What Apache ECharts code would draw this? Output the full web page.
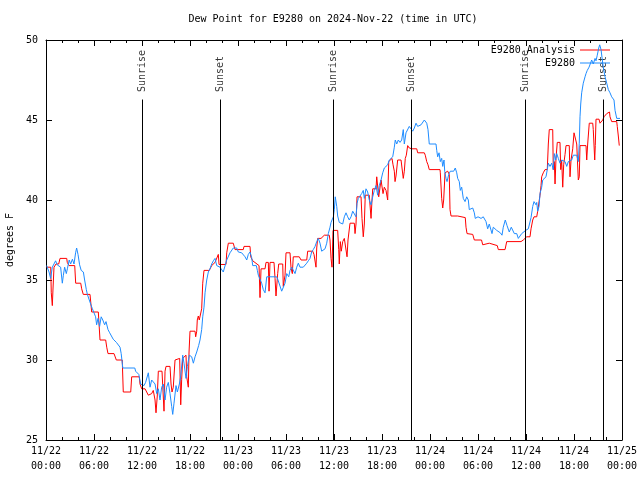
<!DOCTYPE html>
<html><head><meta charset="utf-8">
<script src="https://cdn.jsdelivr.net/npm/echarts@6/dist/echarts.min.js"></script>
<style>html,body{margin:0;padding:0;background:#fff}#c{width:640px;height:480px}</style>
</head><body><div id="c"></div><script>
const chartTitle = 'Dew Point for E9280 on 2024-Nov-22 (time in UTC)';
const yAxisTitle = 'degrees F';
const xTickLabels = ['11/22\n00:00','11/22\n06:00','11/22\n12:00','11/22\n18:00','11/23\n00:00','11/23\n06:00','11/23\n12:00','11/23\n18:00','11/24\n00:00','11/24\n06:00','11/24\n12:00','11/24\n18:00','11/25\n00:00'];
const sunTimes = [12.0, 21.75, 35.91, 45.66, 59.91, 69.66];
const sunLabels = ['Sunrise','Sunset','Sunrise','Sunset','Sunrise','Sunset'];
const redName = 'E9280 Analysis';
const blueName = 'E9280';
// hours since 2024-11-22 00:00 UTC
const redHours = [
0.08,0.59,0.66,0.79,0.88,1.0,1.25,1.59,1.75,2.59,
2.66,2.88,3.59,3.71,4.34,4.46,4.66,5.5,5.71,6.54,
6.75,7.46,7.59,7.75,8.5,8.63,8.79,9.53,9.66,10.59,
10.71,11.66,11.75,11.96,12.38,12.79,13.21,13.41,13.63,13.75,
13.91,14.04,14.5,14.75,14.88,15.0,15.5,15.63,15.75,15.91,
16.13,16.71,16.84,16.96,17.09,17.5,17.59,17.79,17.88,18.0,
18.63,18.71,18.84,18.91,19.04,19.16,19.34,19.46,19.59,19.75,
20.41,20.71,21.13,21.38,21.54,21.63,22.5,22.59,22.79,23.41,
23.63,24.66,24.75,25.5,25.59,25.84,26.0,26.63,26.75,26.88,
27.38,27.5,27.79,27.88,28.0,28.5,28.63,28.75,28.96,29.09,
29.59,29.66,29.88,30.0,30.5,30.63,30.79,30.91,31.66,31.88,
32.59,32.71,33.34,33.5,33.69,33.75,33.84,33.96,34.38,34.79,
35.41,35.5,35.63,35.75,35.88,36.46,36.59,36.66,36.79,36.91,
37.09,37.29,37.5,37.63,37.75,38.0,38.54,38.63,38.75,38.88,
39.38,39.5,39.66,39.79,39.91,40.41,40.63,40.75,40.84,41.25,
41.34,41.5,41.59,41.75,41.88,42.0,42.13,42.29,42.5,42.71,
42.84,43.25,43.38,43.54,43.63,43.75,43.96,44.38,44.5,44.66,
44.79,44.91,45.04,45.21,45.41,45.63,45.75,46.34,46.46,47.29,
47.41,47.59,47.75,47.91,49.25,49.29,49.46,49.59,49.71,49.88,
50.21,50.41,50.5,50.63,51.46,51.66,52.41,52.5,52.63,53.34,
53.54,54.44,54.59,54.75,55.41,55.59,56.41,56.54,57.38,57.59,
59.38,59.66,60.09,60.5,60.63,60.84,61.0,61.34,61.46,61.59,
61.75,61.88,61.96,62.16,62.38,62.66,62.79,62.91,63.34,63.41,
63.54,63.63,63.75,63.91,64.25,64.34,64.46,64.59,64.71,64.88,
65.0,65.41,65.5,65.63,65.84,66.0,66.25,66.34,66.54,66.66,
66.75,67.5,67.59,67.71,67.91,68.34,68.41,68.59,68.66,68.75,
69.13,69.25,69.46,69.59,69.75,70.0,70.09,70.29,70.44,70.5,
70.71,71.34,71.41,71.54,71.66];
const redValues = [
35.8,35.8,34.2,33.4,34.5,35.8,36.0,36.0,36.35,36.35,
36.1,35.9,35.9,34.8,34.8,34.45,34.1,34.1,33.0,33.0,
31.25,31.25,30.8,30.4,30.4,30.3,30.0,30.0,28.0,28.0,
28.95,28.95,28.5,28.2,28.2,27.8,27.9,28.1,27.5,26.7,
27.75,29.3,29.3,26.8,29.3,29.6,29.6,28.5,28.0,28.3,
30.0,30.1,27.2,28.8,30.1,30.3,28.95,28.3,30.5,31.8,
31.8,31.45,31.8,32.5,32.75,32.5,32.5,33.2,34.8,35.6,
35.6,35.9,36.1,36.0,36.6,35.97,35.97,36.7,37.3,37.3,
36.9,36.9,37.1,37.1,36.45,36.2,36.1,35.9,33.9,35.7,
35.7,36.1,36.1,34.3,36.1,36.1,35.1,34.0,35.4,36.0,
36.0,34.6,35.3,36.7,36.7,35.75,35.4,36.45,36.45,36.25,
36.25,36.8,36.8,36.6,36.7,35.8,37.0,37.6,37.6,37.8,
37.8,37.5,36.35,35.8,38.1,38.1,36.9,36.0,37.4,36.8,
37.4,37.6,37.6,36.45,37.5,38.55,38.55,37.9,38.5,40.2,
40.2,38.85,37.7,38.5,40.3,40.3,38.85,40.0,40.7,40.7,
41.45,41.45,40.2,40.3,41.25,41.25,40.4,40.8,40.6,40.0,
42.4,42.6,42.2,41.8,41.15,41.5,42.5,42.5,42.0,41.35,
41.8,42.6,42.8,43.4,43.25,43.25,43.2,43.2,42.95,42.95,
42.8,42.4,42.2,41.9,41.9,41.7,40.1,39.5,40.0,41.7,
41.8,41.6,39.4,39.0,39.0,38.9,38.9,38.3,37.9,37.85,
37.5,37.5,37.2,37.3,37.3,37.2,37.15,36.9,36.9,37.4,
37.4,37.5,37.7,37.7,38.2,38.75,38.95,38.95,39.3,39.4,
40.3,40.9,41.45,41.7,41.9,41.9,43.5,44.4,44.4,41.9,
42.4,41.0,42.6,43.6,43.6,41.9,42.5,40.8,42.2,42.85,
43.4,43.4,41.45,42.5,43.2,44.2,44.2,43.5,41.25,41.45,
43.4,43.4,42.5,43.5,44.8,44.8,44.4,42.5,43.4,45.05,
45.05,44.8,44.8,45.0,45.2,45.2,45.4,45.5,45.5,45.2,
44.9,44.9,44.6,44.0,43.4];
const blueHours = [
0.08,0.38,0.58,0.79,1.2,1.4,1.6,1.83,2.04,2.17,
2.33,2.54,2.67,2.9,3.08,3.3,3.5,3.7,3.83,4.0,
4.2,4.4,4.67,4.83,5.04,5.17,5.4,5.58,5.8,6.0,
6.2,6.33,6.5,6.7,6.9,7.1,7.33,7.5,7.75,7.96,
8.2,8.4,8.58,8.8,9.0,9.25,9.4,9.6,11.1,11.2,
11.6,11.83,12.0,12.25,12.45,12.58,12.79,13.0,13.21,13.41,
13.63,13.84,14.04,14.25,14.46,14.67,14.88,15.08,15.29,15.5,
15.71,15.84,16.0,16.25,16.42,16.67,16.84,17.09,17.25,17.5,
17.67,17.92,18.21,18.42,18.63,18.84,19.08,19.25,19.46,19.59,
19.75,19.88,20.09,20.29,20.5,20.71,20.92,21.13,21.34,21.54,
21.75,21.96,22.16,22.34,22.59,22.79,23.0,23.21,23.41,23.63,
23.84,24.04,24.25,24.46,24.67,24.88,25.09,25.29,25.5,25.71,
25.84,26.04,26.29,26.42,26.54,26.75,26.96,27.16,27.38,27.59,
28.84,29.0,29.25,29.46,29.88,30.09,30.34,30.5,30.71,30.92,
31.13,31.34,31.54,31.75,31.96,32.16,32.34,32.59,32.79,33.0,
33.21,33.41,33.63,33.84,34.04,34.25,34.46,34.66,34.88,35.09,
35.29,35.5,35.63,35.92,36.04,36.16,36.34,36.46,36.66,37.09,
37.29,37.5,37.71,37.91,38.13,38.34,38.54,38.75,38.88,39.04,
39.25,39.46,39.66,39.79,40.0,40.21,40.41,40.63,40.84,41.04,
41.25,41.46,41.66,41.88,42.09,42.29,42.5,42.71,42.91,43.13,
43.34,43.54,43.66,43.84,44.04,44.25,44.46,44.66,44.79,45.0,
45.2,45.41,45.63,45.84,46.04,46.25,46.46,46.66,46.88,47.09,
47.29,47.41,47.59,47.75,47.91,48.75,48.84,48.96,49.13,49.29,
49.46,49.59,49.75,49.84,50.0,50.13,50.34,50.54,50.75,50.96,
51.16,51.34,51.46,51.66,51.79,51.96,52.16,52.38,52.59,52.79,
52.91,53.13,53.34,53.54,53.66,54.0,54.38,54.66,54.88,55.0,
55.21,55.41,55.63,55.75,55.91,56.13,56.34,56.59,56.79,57.0,
57.16,57.41,57.63,57.91,58.16,58.54,58.75,58.84,59.04,59.25,
59.46,59.63,59.96,60.29,60.5,60.63,60.84,61.0,61.25,61.34,
61.46,61.63,61.75,61.96,62.09,62.25,62.5,62.66,62.79,63.0,
63.21,63.41,63.54,63.71,63.84,64.04,64.25,64.46,64.66,64.88,
65.09,65.29,65.5,65.71,65.91,66.13,66.34,66.54,66.66,66.75,
66.84,66.96,67.16,67.38,67.5,67.66,67.88,68.09,68.21,68.41,
68.63,68.75,68.91,69.09,69.21,69.38,69.54,69.66,69.88,70.09,
70.29,70.5,70.71,70.84,71.0,71.13,71.34,71.54,71.75];
const blueValues = [
35.9,35.5,35.1,35.8,36.2,35.95,36.05,35.8,34.8,35.3,
35.8,35.4,35.7,36.25,36.0,36.3,36.0,36.7,37.0,36.6,
35.95,35.6,35.5,35.0,34.4,34.1,34.0,33.5,33.2,33.1,
32.7,32.2,32.6,32.1,32.7,32.5,32.2,32.4,31.9,31.7,
31.6,31.3,31.4,31.1,31.0,30.8,30.4,29.5,29.5,29.3,
29.1,28.5,28.5,28.4,28.6,28.5,29.2,28.3,28.75,28.85,
28.5,27.9,28.2,27.5,28.3,28.5,27.5,28.3,28.6,27.9,
27.1,26.6,27.3,28.4,28.0,28.5,29.0,30.3,29.8,28.85,
29.6,30.3,30.2,29.8,30.2,30.5,30.9,31.25,31.9,32.7,
33.3,34.2,35.0,35.5,35.7,36.0,36.2,36.35,35.9,35.85,
35.8,35.8,35.5,35.6,36.25,36.3,36.7,36.8,37.0,37.1,
37.0,36.75,36.7,36.7,36.7,36.45,36.25,36.6,36.75,36.4,
35.9,36.0,35.9,35.6,35.3,35.4,34.8,34.4,34.2,35.2,
35.2,35.0,35.0,34.3,34.8,35.4,35.2,35.6,35.8,35.7,
35.4,35.8,36.05,35.8,35.7,35.8,35.9,36.05,36.2,36.35,
36.75,36.9,37.1,37.4,37.6,37.3,36.8,36.9,36.95,37.3,
37.9,38.3,38.6,38.95,39.4,40.2,39.6,39.0,38.6,38.5,
38.95,39.2,38.95,38.75,38.95,39.3,39.2,38.95,39.8,40.1,
40.0,40.4,40.6,40.1,40.7,40.5,40.0,39.7,40.2,40.6,
40.9,40.3,40.9,41.25,41.7,42.0,41.9,42.2,42.5,42.5,
42.7,43.3,43.75,43.5,43.75,43.6,43.75,44.4,43.5,44.2,
44.3,44.6,44.7,44.3,44.5,44.8,44.6,44.5,44.7,44.8,
45.0,45.1,44.8,44.4,43.5,43.5,43.1,42.7,42.95,42.4,
42.6,42.1,42.5,41.8,41.35,41.15,41.6,41.8,41.9,41.8,
42.0,41.7,41.35,41.15,40.6,40.8,40.1,39.9,40.2,40.0,
39.4,39.3,39.5,39.2,38.85,38.95,38.85,38.95,39.05,38.65,
38.2,38.5,38.6,37.9,38.3,38.3,38.1,38.0,37.95,37.8,
38.3,38.75,38.4,38.0,38.3,37.9,37.8,37.9,37.6,37.7,
37.9,38.0,38.1,38.2,38.3,38.9,39.6,39.9,39.7,39.85,
39.3,39.6,40.4,40.8,41.25,41.3,41.45,41.9,42.3,42.1,
42.3,41.9,42.9,42.5,42.9,42.6,42.3,42.5,42.6,42.4,
42.1,42.4,42.3,42.5,42.8,42.9,42.8,42.4,43.55,45.2,
46.0,46.7,47.3,47.7,47.9,48.1,48.3,48.3,48.75,48.5,
48.85,48.7,49.05,49.5,49.7,49.4,48.75,48.3,47.7,47.3,
46.9,46.7,46.45,46.55,46.25,45.6,45.1,45.15,45.1];

const font = 'DejaVu Sans Mono';
const txt = {fontFamily: font, fontSize: 10, color: '#000'};
const sunLineTop = 46.28;
const sunLabelBase = 46.75;
const chart = echarts.init(document.getElementById('c'), null, {renderer: 'canvas'});
const axisBase = {
  type: 'value', min: 0, max: 72, interval: 6,
  axisLine: {show: true, onZero: false, lineStyle: {color: '#000', width: 1}},
  axisTick: {show: true, inside: true, length: 6, lineStyle: {color: '#000', width: 1}},
  minorTick: {show: true, splitNumber: 3, length: 3, lineStyle: {color: '#000', width: 1}},
  splitLine: {show: false}
};
const yBase = {
  type: 'value', min: 25, max: 50, interval: 5,
  axisLine: {show: true, onZero: false, lineStyle: {color: '#000', width: 1}},
  axisTick: {show: true, inside: true, length: 6, lineStyle: {color: '#000', width: 1}},
  splitLine: {show: false}
};
chart.setOption({
  animation: false,
  backgroundColor: '#fff',
  graphic: [{type: 'text', x: 333, y: 19, style: {text: chartTitle, align: 'center', verticalAlign: 'middle', fill: '#000', font: '10px "DejaVu Sans Mono"'}}],
  grid: {left: 46, right: 18, top: 40, bottom: 40, containLabel: false, outerBoundsMode: 'none'},
  legend: [
    {data: [{name: redName, icon: 'rect'}], right: 30, top: 45, padding: 0, align: 'right', itemWidth: 30, itemHeight: 1, textStyle: txt, selectedMode: false},
    {data: [{name: blueName, icon: 'rect'}], right: 30, top: 58, padding: 0, align: 'right', itemWidth: 30, itemHeight: 1, textStyle: txt, selectedMode: false}
  ],
  xAxis: [
    Object.assign({}, axisBase, {position: 'bottom', axisLabel: Object.assign({formatter: v => xTickLabels[Math.round(v / 6)], lineHeight: 15, margin: 4}, txt)}),
    Object.assign({}, axisBase, {position: 'top', axisLabel: {show: false}})
  ],
  yAxis: [
    Object.assign({}, yBase, {position: 'left', name: yAxisTitle, nameLocation: 'middle', nameGap: 31, nameTextStyle: txt, axisLabel: Object.assign({margin: 8}, txt)}),
    Object.assign({}, yBase, {position: 'right', axisLabel: {show: false}})
  ],
  series: [
    {
      type: 'scatter', name: 'sun', z: 1, symbolSize: 1, itemStyle: {color: 'rgba(0,0,0,0)'},
      data: sunTimes.map((t, i) => [t, sunLabelBase, sunLabels[i]]),
      label: Object.assign({show: true, formatter: p => p.data[2], rotate: 90, position: 'inside', align: 'left', verticalAlign: 'middle'}, txt),
      markLine: {silent: true, symbol: 'none', label: {show: false}, lineStyle: {color: '#000', width: 1, type: 'solid'},
        data: sunTimes.map(t => [{coord: [t, 25]}, {coord: [t, sunLineTop]}])}
    },
    {type: 'line', name: redName, z: 3, color: '#ff0000', symbol: 'none', lineStyle: {color: '#ff0000', width: 1},
      data: redHours.map((h, i) => [h, redValues[i]])},
    {type: 'line', name: blueName, z: 4, color: '#1e8cff', symbol: 'none', lineStyle: {color: '#1e8cff', width: 1},
      data: blueHours.map((h, i) => [h, blueValues[i]])}
  ]
});
</script></body></html>
